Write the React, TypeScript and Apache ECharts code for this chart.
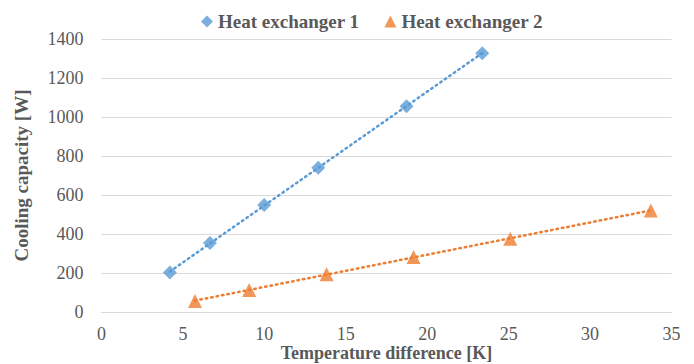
import React, { useEffect, useRef } from "react";
import * as echarts from "echarts";

const hx1X = [4.2, 6.66, 9.99, 13.31, 18.73, 23.38];
const hx1Y = [203, 354, 549, 740, 1055, 1327];
const hx2X = [5.74, 9.07, 13.82, 19.16, 25.1, 33.73];
const hx2Y = [57, 113, 193, 282, 376, 521];
const xTicks = [0, 5, 10, 15, 20, 25, 30, 35];
const yTicks = [0, 200, 400, 600, 800, 1000, 1200, 1400];
const seriesNames = ["Heat exchanger 1", "Heat exchanger 2"];

function trend(xs: number[], ys: number[]) {
  const n = xs.length;
  const mx = xs.reduce((a, b) => a + b, 0) / n;
  const my = ys.reduce((a, b) => a + b, 0) / n;
  let sxy = 0, sxx = 0;
  for (let i = 0; i < n; i++) {
    sxy += (xs[i] - mx) * (ys[i] - my);
    sxx += (xs[i] - mx) ** 2;
  }
  const b = sxy / sxx;
  const a = my - b * mx;
  const x0 = Math.min(...xs), x1 = Math.max(...xs);
  return [[x0, a + b * x0], [x1, a + b * x1]];
}

const FONT = "'Liberation Serif', 'Times New Roman', serif";
const GRAY = "#595959";
const BLUE = "#5B9BD5";
const ORANGE = "#ED7D31";

export default function App() {
  const ref = useRef<HTMLDivElement>(null);
  useEffect(() => {
    if (!ref.current) return;
    const chart = echarts.init(ref.current, null, { renderer: "svg" });
    chart.setOption({
      animation: false,
      backgroundColor: "#ffffff",
      grid: { left: 101.5, right: 22.5, top: 39, bottom: 52, containLabel: false, outerBoundsMode: "none" },
      legend: {
        top: 7,
        left: 196,
        itemGap: 25,
        itemWidth: 12,
        itemHeight: 12,
        textStyle: { fontFamily: FONT, fontWeight: "bold", fontSize: 19, color: GRAY },
        data: [
          { name: seriesNames[0], icon: "diamond" },
          { name: seriesNames[1], icon: "triangle" },
        ],
      },
      xAxis: {
        type: "value",
        min: xTicks[0],
        max: xTicks[xTicks.length - 1],
        interval: 5,
        name: "Temperature difference [K]",
        nameLocation: "middle",
        nameGap: 32,
        nameMoveOverlap: false,
        nameTextStyle: { fontFamily: FONT, fontWeight: "bold", fontSize: 18, color: GRAY },
        axisLine: { show: true, lineStyle: { color: "#d9d9d9", width: 1 } },
        axisTick: { show: false },
        splitLine: { show: false },
        axisLabel: { fontFamily: FONT, fontSize: 18, color: GRAY, margin: 13 },
      },
      yAxis: {
        type: "value",
        min: yTicks[0],
        max: yTicks[yTicks.length - 1],
        interval: 200,
        name: "Cooling capacity [W]",
        nameLocation: "middle",
        nameGap: 71,
        nameMoveOverlap: false,
        nameRotate: 90,
        nameTextStyle: { fontFamily: FONT, fontWeight: "bold", fontSize: 19, color: GRAY },
        axisLine: { show: false },
        axisTick: { show: false },
        splitLine: { show: true, lineStyle: { color: "#d9d9d9", width: 1 } },
        axisLabel: {
          fontFamily: FONT,
          fontSize: 18,
          color: GRAY,
          margin: 18,
          formatter: (v: number) => String(v),
        },
      },
      series: [
        {
          name: seriesNames[0] + " trend",
          type: "line",
          data: trend(hx1X, hx1Y),
          symbol: "none",
          lineStyle: { color: BLUE, width: 2.5, type: [1.5, 4], cap: "round" },
          silent: true,
          z: 1,
        },
        {
          name: seriesNames[1] + " trend",
          type: "line",
          data: trend(hx2X, hx2Y),
          symbol: "none",
          lineStyle: { color: ORANGE, width: 2.5, type: [1.5, 4], cap: "round" },
          silent: true,
          z: 1,
        },
        {
          name: seriesNames[0],
          type: "scatter",
          symbol: "diamond",
          symbolSize: 14,
          itemStyle: { color: BLUE },
          data: hx1X.map((x, i) => [x, hx1Y[i]]),
          z: 3,
        },
        {
          name: seriesNames[1],
          type: "scatter",
          symbol: "triangle",
          symbolSize: 14,
          itemStyle: { color: ORANGE },
          data: hx2X.map((x, i) => [x, hx2Y[i]]),
          z: 3,
        },
      ],
    });
    return () => chart.dispose();
  }, []);
  return <div ref={ref} style={{ width: 694, height: 364, position: "absolute", left: 0, top: 0 }} />;
}
